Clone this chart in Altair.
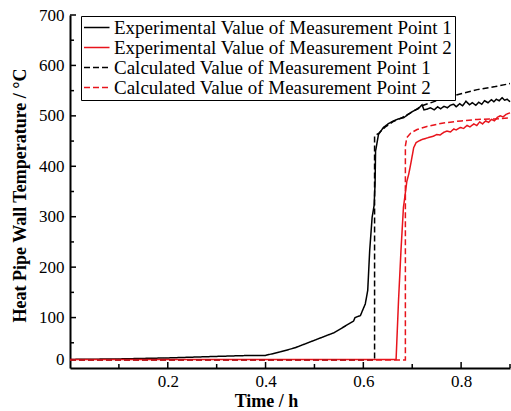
import altair as alt
import pandas as pd

SERIES = [
    "Experimental Value of Measurement Point 1",
    "Experimental Value of Measurement Point 2",
    "Calculated Value of Measurement Point 1",
    "Calculated Value of Measurement Point 2",
]
COLORS = ["#000000", "#e8141c", "#000000", "#e8141c"]
DASHES = [[1, 0], [1, 0], [6, 3], [6, 3]]

exp1_t = [0.0, 0.1, 0.2, 0.3, 0.37, 0.4, 0.43, 0.46, 0.5, 0.54, 0.58, 0.583, 0.594, 0.604, 0.609,
          0.613, 0.618, 0.622, 0.624, 0.625, 0.631, 0.641, 0.652, 0.662, 0.672, 0.682, 0.692, 0.703,
          0.712, 0.72, 0.724, 0.73, 0.737, 0.745, 0.752, 0.758, 0.765, 0.772, 0.778, 0.785, 0.79,
          0.797, 0.803, 0.81, 0.817, 0.823, 0.83, 0.836, 0.842, 0.848, 0.855, 0.862, 0.867, 0.872,
          0.878, 0.884, 0.889, 0.894, 0.9]
exp1_v = [17, 18, 20, 23, 25, 25, 32, 40, 55, 70, 93, 100, 104, 127, 154,
          233, 299, 322, 365, 430, 463, 477, 485, 490, 494, 496, 503, 510,
          514, 522, 512, 513, 516, 512, 518, 514, 519, 516, 521, 523, 518,
          524, 520, 529, 522, 526, 521, 527, 523, 530, 526, 532, 528, 533,
          530, 536, 531, 533, 528]

exp2_t = [0.0, 0.667, 0.672, 0.677, 0.682, 0.689, 0.693, 0.698, 0.703, 0.708, 0.713, 0.72, 0.73,
          0.744, 0.75, 0.757, 0.764, 0.771, 0.778, 0.785, 0.79, 0.798, 0.805, 0.812, 0.818, 0.826,
          0.832, 0.838, 0.844, 0.85, 0.856, 0.862, 0.868, 0.874, 0.88, 0.886, 0.892, 0.9]
exp2_v = [17, 17, 134, 233, 318, 370, 385, 410, 437, 447, 450, 453, 456,
          460, 463, 462, 467, 470, 468, 474, 472, 477, 475, 481, 478, 484,
          481, 488, 484, 490, 487, 493, 490, 497, 500, 498, 503, 506]

calc1_t = [0.0, 0.623, 0.623, 0.632, 0.645, 0.66, 0.68, 0.70, 0.72, 0.75, 0.771, 0.8, 0.833, 0.87, 0.9]
calc1_v = [16, 16, 460, 466, 478, 488, 497, 508, 520, 530, 536, 544, 552, 558, 564]

calc2_t = [0.0, 0.686, 0.686, 0.689, 0.697, 0.71, 0.73, 0.764, 0.8, 0.833, 0.87, 0.9]
calc2_v = [16, 16, 440, 457, 466, 473, 479, 486, 490, 493, 494, 496]

x_major = [0.2, 0.4, 0.6, 0.8]
x_minor = [0.1, 0.3, 0.5, 0.7, 0.9]
y_major = [100, 200, 300, 400, 500, 600, 700]
y_minor = [50, 150, 250, 350, 450, 550, 650]
y_labels = [0, 100, 200, 300, 400, 500, 600, 700]

rows = []
for name, ts, vs in zip(SERIES, [exp1_t, exp2_t, calc1_t, calc2_t], [exp1_v, exp2_v, calc1_v, calc2_v]):
    for i, (t, v) in enumerate(zip(ts, vs)):
        rows.append({"series": name, "t": t, "T": v, "idx": i})
df = pd.DataFrame(rows)

FONT = "Liberation Serif"
W, H = 440, 353
XT = "Time / h"
YT = "Heat Pipe Wall Temperature / °C"

legend = alt.Legend(
    title=None, orient="none", legendX=11, legendY=1,
    strokeColor="black", fillColor="white", padding=2, rowPadding=-10,
    symbolType="M-1,0L2,0", symbolSize=289, symbolStrokeWidth=1.5, labelOffset=12,
    labelFont=FONT, labelFontSize=19, labelColor="black", labelLimit=0,
)

xs = alt.Scale(domain=[0, 0.9], nice=False, zero=False)
ys = alt.Scale(domain=[0, 700], nice=False)

x_axis = alt.Axis(values=x_major, format=".1f", ticks=False, tickSize=0, grid=False,
                  domainColor="black", domainWidth=2, labelFont=FONT, labelFontSize=17,
                  labelColor="black", labelPadding=5, titleFont=FONT, titleFontSize=18,
                  titleFontWeight="bold", titleColor="black", titleX=196, titleY=38,
                  titleBaseline="alphabetic", titleAlign="center")
y_axis = alt.Axis(values=y_labels, format="d", ticks=False, tickSize=0, grid=False,
                  domainColor="black", domainWidth=2, labelFont=FONT, labelFontSize=17,
                  labelColor="black", labelPadding=6,
                  labelBaseline={"condition": {"test": "datum.value == 0", "value": "bottom"}, "value": "middle"},
                  titleFont=FONT, titleFontSize=18, titleFontWeight="bold", titleColor="black",
                  titleX=-45, titleY=180, titleBaseline="alphabetic", titleAlign="center", titleAngle=270)

lines = alt.Chart(df).mark_line(strokeWidth=1.5).encode(
    x=alt.X("t:Q", scale=xs, title=XT, axis=x_axis),
    y=alt.Y("T:Q", scale=ys, title=YT, axis=y_axis),
    color=alt.Color("series:N", scale=alt.Scale(domain=SERIES, range=COLORS), legend=legend, sort=SERIES),
    strokeDash=alt.StrokeDash("series:N", scale=alt.Scale(domain=SERIES, range=DASHES), legend=legend, sort=SERIES),
    order=alt.Order("idx:Q"),
)

xt_major = alt.Chart(pd.DataFrame({"t": x_major})).mark_rule(color="black", strokeWidth=1.5).encode(
    x=alt.X("t:Q", scale=xs, title=XT, axis=x_axis), y=alt.value(H), y2=alt.value(H - 6))
xt_minor = alt.Chart(pd.DataFrame({"t": x_minor})).mark_rule(color="black", strokeWidth=1.5).encode(
    x=alt.X("t:Q", scale=xs, title=XT, axis=x_axis), y=alt.value(H), y2=alt.value(H - 4))
yt_major = alt.Chart(pd.DataFrame({"T": y_major})).mark_rule(color="black", strokeWidth=1.5).encode(
    y=alt.Y("T:Q", scale=ys, title=YT, axis=y_axis), x=alt.value(0), x2=alt.value(6))
yt_minor = alt.Chart(pd.DataFrame({"T": y_minor})).mark_rule(color="black", strokeWidth=1.5).encode(
    y=alt.Y("T:Q", scale=ys, title=YT, axis=y_axis), x=alt.value(0), x2=alt.value(4))

chart = alt.layer(lines, xt_major, xt_minor, yt_major, yt_minor).properties(
    width=W, height=H,
    autosize=alt.AutoSizeParams(type="none"),
    padding={"left": 70, "top": 15, "right": 1, "bottom": 43},
    background="white",
).configure_view(stroke=None)

chart.save("out.html", embed_options={"renderer": "svg", "actions": False})
